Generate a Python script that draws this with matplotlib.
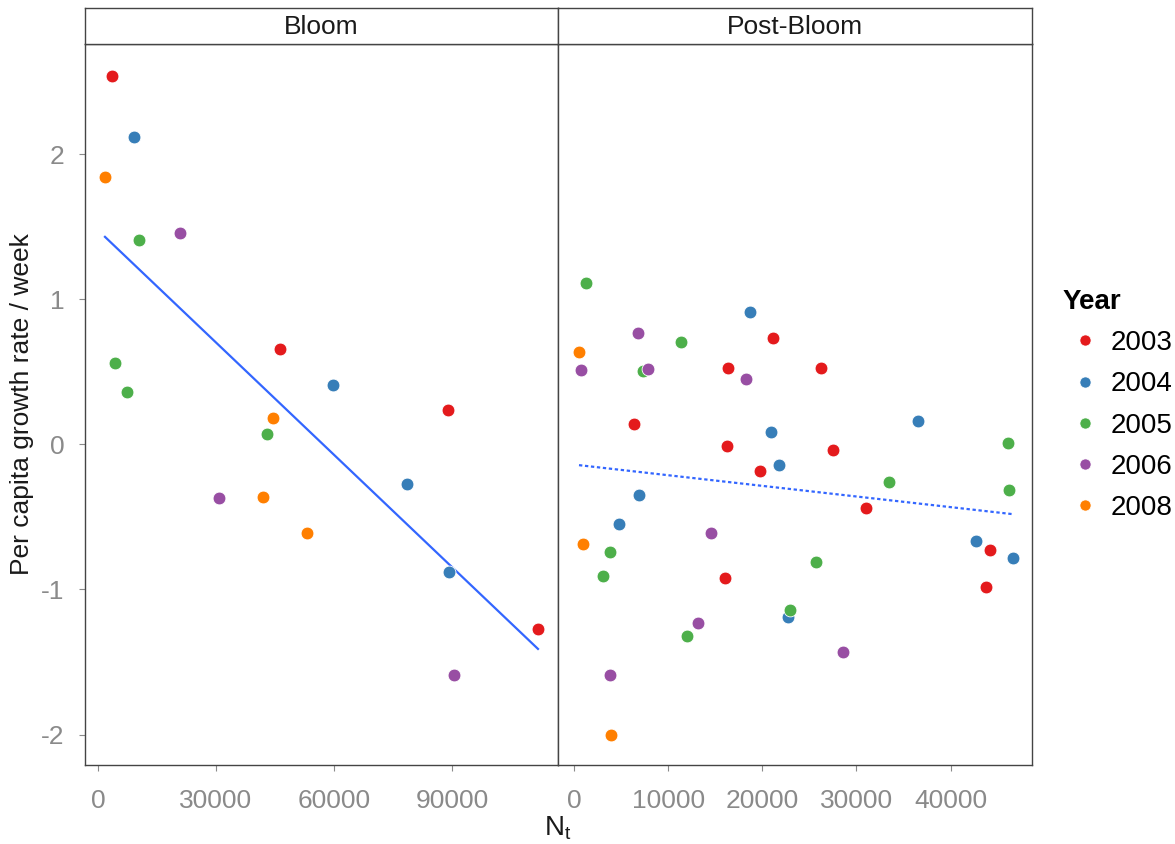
import numpy as np
import matplotlib
matplotlib.use("Agg")
import matplotlib.pyplot as plt
from matplotlib.lines import Line2D

plt.rcParams['font.family'] = ['Liberation Sans', 'DejaVu Sans']

years = ['2003', '2004', '2005', '2006', '2008']
colors = ['#E41A1C', '#377EB8', '#4DAF4A', '#984EA3', '#FF7F00']

# Bloom panel: N_t and per capita growth rate, by year
bloom_x = {
    '2003': [3560, 46270, 88980, 111860],
    '2004': [9150, 59750, 78560, 89240],
    '2005': [10420, 4320, 7370, 42970],
    '2006': [20850, 30760, 90510],
    '2008': [1780, 44490, 41950, 53140],
}
bloom_y = {
    '2003': [2.54, 0.655, 0.234, -1.27],
    '2004': [2.12, 0.41, -0.27, -0.88],
    '2005': [1.41, 0.56, 0.36, 0.07],
    '2006': [1.46, -0.37, -1.59],
    '2008': [1.84, 0.18, -0.365, -0.61],
}

# Post-Bloom panel
post_x = {
    '2003': [21120, 16320, 26270, 6330, 16250, 27520, 19770, 30970, 44160, 16030, 43770],
    '2004': [18740, 20940, 21760, 36480, 6860, 4800, 42670, 46610, 22720],
    '2005': [1250, 11410, 7290, 46080, 33490, 46150, 3870, 3130, 25740, 22970, 11980],
    '2006': [6830, 780, 7890, 18280, 14580, 13120, 28620, 3800],
    '2008': [530, 990, 3980],
}
post_y = {
    '2003': [0.731, 0.526, 0.524, 0.143, -0.009, -0.041, -0.184, -0.441, -0.729, -0.922, -0.982],
    '2004': [0.915, 0.0875, -0.145, 0.161, -0.35, -0.547, -0.664, -0.78, -1.193],
    '2005': [1.11, 0.706, 0.503, 0.007, -0.257, -0.315, -0.74, -0.908, -0.809, -1.143, -1.324],
    '2006': [0.766, 0.51, 0.517, 0.453, -0.609, -1.234, -1.428, -1.588],
    '2008': [0.634, -0.685, -2.0],
}

bloom_ticks = [0, 30000, 60000, 90000]
post_ticks = [0, 10000, 20000, 30000, 40000]
y_ticks = [-2, -1, 0, 1, 2]

fig = plt.figure(figsize=(11.75, 8.44), dpi=100)

left, mid, right = 85 / 1175, 558 / 1175, 1032 / 1175
bottom, top = 1 - 765 / 844, 1 - 44 / 844
strip_top = 1 - 8 / 844

ax1 = fig.add_axes([left, bottom, mid - left, top - bottom])
ax2 = fig.add_axes([mid, bottom, right - mid, top - bottom], sharey=ax1)

panels = [
    (ax1, bloom_x, bloom_y, bloom_ticks, (-3300, 116950), 'Bloom', '-'),
    (ax2, post_x, post_y, post_ticks, (-1700, 48640), 'Post-Bloom', (0, (1.5, 1.2))),
]

for ax, xs, ys, ticks, xlim, title, ls in panels:
    allx, ally = [], []
    for yr, c in zip(years, colors):
        ax.scatter(xs[yr], ys[yr], s=85, color=c, edgecolor='white',
                   linewidth=0.6, zorder=3)
        allx += xs[yr]
        ally += ys[yr]
    allx = np.array(allx, dtype=float)
    ally = np.array(ally)
    slope, icpt = np.polyfit(allx, ally, 1)
    xx = np.array([allx.min(), allx.max()])
    ax.plot(xx, icpt + slope * xx, color='#3366FF', lw=1.6, ls=ls, zorder=2)

    ax.set_xlim(*xlim)
    ax.set_ylim(-2.21, 2.76)
    ax.set_xticks(ticks)
    ax.set_xticklabels([str(t) for t in ticks])
    ax.tick_params(axis='both', colors='#8a8a8a', labelsize=19, length=4,
                   width=0.8, direction='out')
    ax.tick_params(axis='x', pad=13)
    ax.tick_params(axis='y', pad=11)
    for sp in ax.spines.values():
        sp.set_color('#444444')
        sp.set_linewidth(1.0)

    # facet strip
    pos = ax.get_position()
    sax = fig.add_axes([pos.x0, top, pos.width, strip_top - top])
    sax.set_xticks([])
    sax.set_yticks([])
    for sp in sax.spines.values():
        sp.set_color('#444444')
        sp.set_linewidth(1.0)
    sax.text(0.5, 0.47, title, ha='center', va='center', fontsize=19,
             color='#1a1a1a', transform=sax.transAxes)

ax1.set_yticks(y_ticks)
ax1.set_yticklabels([str(v) for v in y_ticks])
ax2.tick_params(axis='y', left=False, labelleft=False)

ax1.set_ylabel('Per capita growth rate / week', fontsize=19, color='#1a1a1a', labelpad=5)
fig.text(mid, 1 - 828 / 844, r'N$_\mathregular{t}$', ha='center', va='center',
         fontsize=20, color='#1a1a1a')

handles = [Line2D([0], [0], marker='o', ls='', markersize=8, color=c,
                  markeredgecolor='white', markeredgewidth=0.5) for c in colors]
leg = fig.legend(handles, years, title='Year', loc='center left',
                 bbox_to_anchor=(1038 / 1175, 1 - 405 / 844), frameon=False,
                 fontsize=20, title_fontproperties={'weight': 'bold', 'size': 20},
                 handletextpad=0.1, labelspacing=0.55, handlelength=1.6)
leg._legend_box.align = 'left'

fig.savefig('out.png', dpi=100)
